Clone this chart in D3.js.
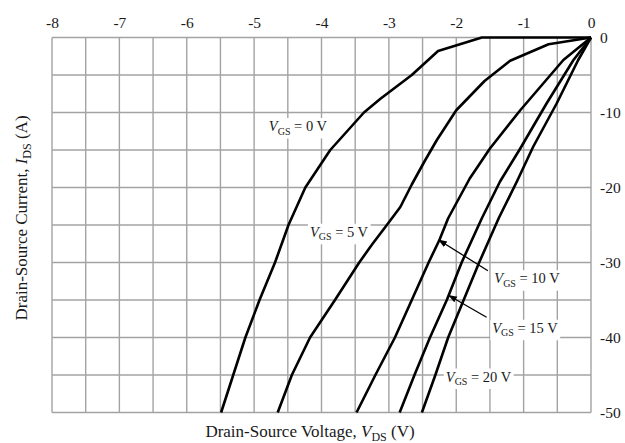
<!DOCTYPE html>
<html>
<head>
<meta charset="utf-8">
<script src="https://cdn.jsdelivr.net/npm/d3@7"></script>
<style>
  html, body { margin: 0; padding: 0; background: #fff; }
  svg { display: block; }
  text { font-family: "Liberation Serif", "Times New Roman", serif; fill: #1a1a1a; }
</style>
</head>
<body>
<svg id="chart" width="625" height="443"></svg>
<script>
// Drain-source voltage (V) and current (A) points for each gate-source voltage
const vgs0V  = [0, -1.62, -2.27, -2.66, -3.13, -3.37, -3.87, -4.24, -4.49, -4.69, -4.92, -5.13, -5.31, -5.49];
const vgs0I  = [0, 0, -1.8, -5, -8.2, -10, -15, -20, -25, -30, -35, -40, -45, -50];
const vgs5V  = [0, -0.63, -1.20, -1.58, -2.0, -2.29, -2.47, -2.66, -2.83, -3.03, -3.25, -3.44, -3.80, -4.17, -4.44, -4.65];
const vgs5I  = [0, -0.9, -3.1, -5.8, -9.7, -13.7, -16.5, -19.6, -22.6, -25, -27.6, -30, -35, -40, -45, -50];
const vgs10V = [0, -0.41, -1.05, -1.50, -1.80, -2.12, -2.25, -2.41, -2.66, -2.91, -3.20, -3.48];
const vgs10I = [0, -3.0, -9.7, -14.8, -18.8, -24.1, -27, -30, -35, -40, -45, -50];
const vgs15V = [0, -0.26, -0.66, -1.05, -1.35, -1.62, -1.92, -2.14, -2.39, -2.62, -2.84];
const vgs15I = [0, -3.0, -8.8, -14.8, -19.2, -24.1, -30, -35, -40, -45, -50];
const vgs20V = [0, -0.19, -0.51, -0.86, -1.10, -1.37, -1.66, -1.89, -2.12, -2.31, -2.51];
const vgs20I = [0, -3.0, -8.8, -14.6, -19.2, -24.1, -30, -35, -40, -45, -50];

const xTicks = [-8, -7, -6, -5, -4, -3, -2, -1, 0];
const yTicks = [0, -10, -20, -30, -40, -50];
const seriesNames = ["0", "5", "10", "15", "20"];

const svg = d3.select("#chart");
const x = d3.scaleLinear().domain([-8, 0]).range([52, 591]);
const y = d3.scaleLinear().domain([0, -50]).range([37.5, 412.5]);
const fmt = d => String(d);   // plain hyphen-minus

// grid
const grid = svg.append("g").attr("stroke", "#a3a3a3").attr("stroke-width", 1.4);
grid.selectAll("line.v").data(d3.range(-8, 0.001, 0.5)).join("line")
  .attr("x1", d => x(d)).attr("x2", d => x(d))
  .attr("y1", y(0)).attr("y2", y(-50));
grid.selectAll("line.h").data(d3.range(0, -50.001, -5)).join("line")
  .attr("x1", x(-8)).attr("x2", x(0))
  .attr("y1", d => y(d)).attr("y2", d => y(d));

// axes
const topAxis = svg.append("g").attr("transform", `translate(0,${y(0)})`)
  .call(d3.axisTop(x).tickValues(xTicks).tickSize(0).tickPadding(10).tickFormat(fmt));
const rightAxis = svg.append("g").attr("transform", `translate(${x(0)},0)`)
  .call(d3.axisRight(y).tickValues(yTicks).tickSize(0).tickPadding(9).tickFormat(fmt));
[topAxis, rightAxis].forEach(a => {
  a.select(".domain").remove();
  a.selectAll("text").style("font-family", '"Liberation Serif", serif').style("font-size", "15.5px").attr("fill", "#1a1a1a");
});
topAxis.selectAll("text").attr("dy", "0");

// curves
const line = d3.line().x(d => x(d[0])).y(d => y(d[1]));
const curves = [[vgs0V, vgs0I], [vgs5V, vgs5I], [vgs10V, vgs10I], [vgs15V, vgs15I], [vgs20V, vgs20I]]
  .map(([v, i]) => v.map((vv, k) => [vv, i[k]]));
svg.append("g").selectAll("path").data(curves).join("path")
  .attr("d", line).attr("fill", "none").attr("stroke", "#000")
  .attr("stroke-width", 2.6).attr("stroke-linejoin", "round");

// arrows pointing from labels to curves
svg.append("defs").append("marker").attr("id", "arr")
  .attr("viewBox", "0 0 10 10").attr("refX", 9).attr("refY", 5)
  .attr("markerWidth", 9).attr("markerHeight", 9).attr("markerUnits", "userSpaceOnUse")
  .attr("orient", "auto")
  .append("path").attr("d", "M0,1.5 L10,5 L0,8.5 Z").attr("fill", "#000");
const arrows = [
  { from: [-1.53, -31.1], to: [-2.26, -27.0] },
  { from: [-1.55, -37.3], to: [-2.11, -34.4] }
];
svg.append("g").selectAll("line").data(arrows).join("line")
  .attr("x1", d => x(d.from[0])).attr("y1", d => y(d.from[1]))
  .attr("x2", d => x(d.to[0])).attr("y2", d => y(d.to[1]))
  .attr("stroke", "#000").attr("stroke-width", 1.3).attr("marker-end", "url(#arr)");

// curve labels with white backing
const labelPos = [[-4.35, -11.8], [-3.74, -25.9], [-0.95, -32.1], [-0.98, -38.7], [-1.67, -45.2]];
const labels = svg.append("g");
seriesNames.forEach((name, k) => {
  const g = labels.append("g");
  const t = g.append("text")
    .attr("x", x(labelPos[k][0])).attr("y", y(labelPos[k][1]) + 5)
    .attr("text-anchor", "middle").style("font-size", "14.5px");
  t.append("tspan").attr("font-style", "italic").text("V");
  t.append("tspan").attr("dy", 3.5).style("font-size", "10px").text("GS");
  t.append("tspan").attr("dy", -3.5).text(` = ${name} V`);
  const b = t.node().getBBox();
  g.insert("rect", "text").attr("x", b.x - 2).attr("y", b.y).attr("width", b.width + 4)
    .attr("height", b.height + 2).attr("fill", "#fff");
});

// axis titles
const xt = svg.append("text").attr("x", 310).attr("y", 437).attr("text-anchor", "middle").style("font-size", "17px");
xt.append("tspan").text("Drain-Source Voltage, ");
xt.append("tspan").attr("font-style", "italic").text("V");
xt.append("tspan").attr("dy", 4).style("font-size", "12px").text("DS");
xt.append("tspan").attr("dy", -4).text(" (V)");

const yt = svg.append("text").attr("transform", "translate(27,218) rotate(-90)")
  .attr("text-anchor", "middle").style("font-size", "17px");
yt.append("tspan").text("Drain-Source Current, ");
yt.append("tspan").attr("font-style", "italic").text("I");
yt.append("tspan").attr("dy", 4).style("font-size", "12px").text("DS");
yt.append("tspan").attr("dy", -4).text(" (A)");
</script>
</body>
</html>
